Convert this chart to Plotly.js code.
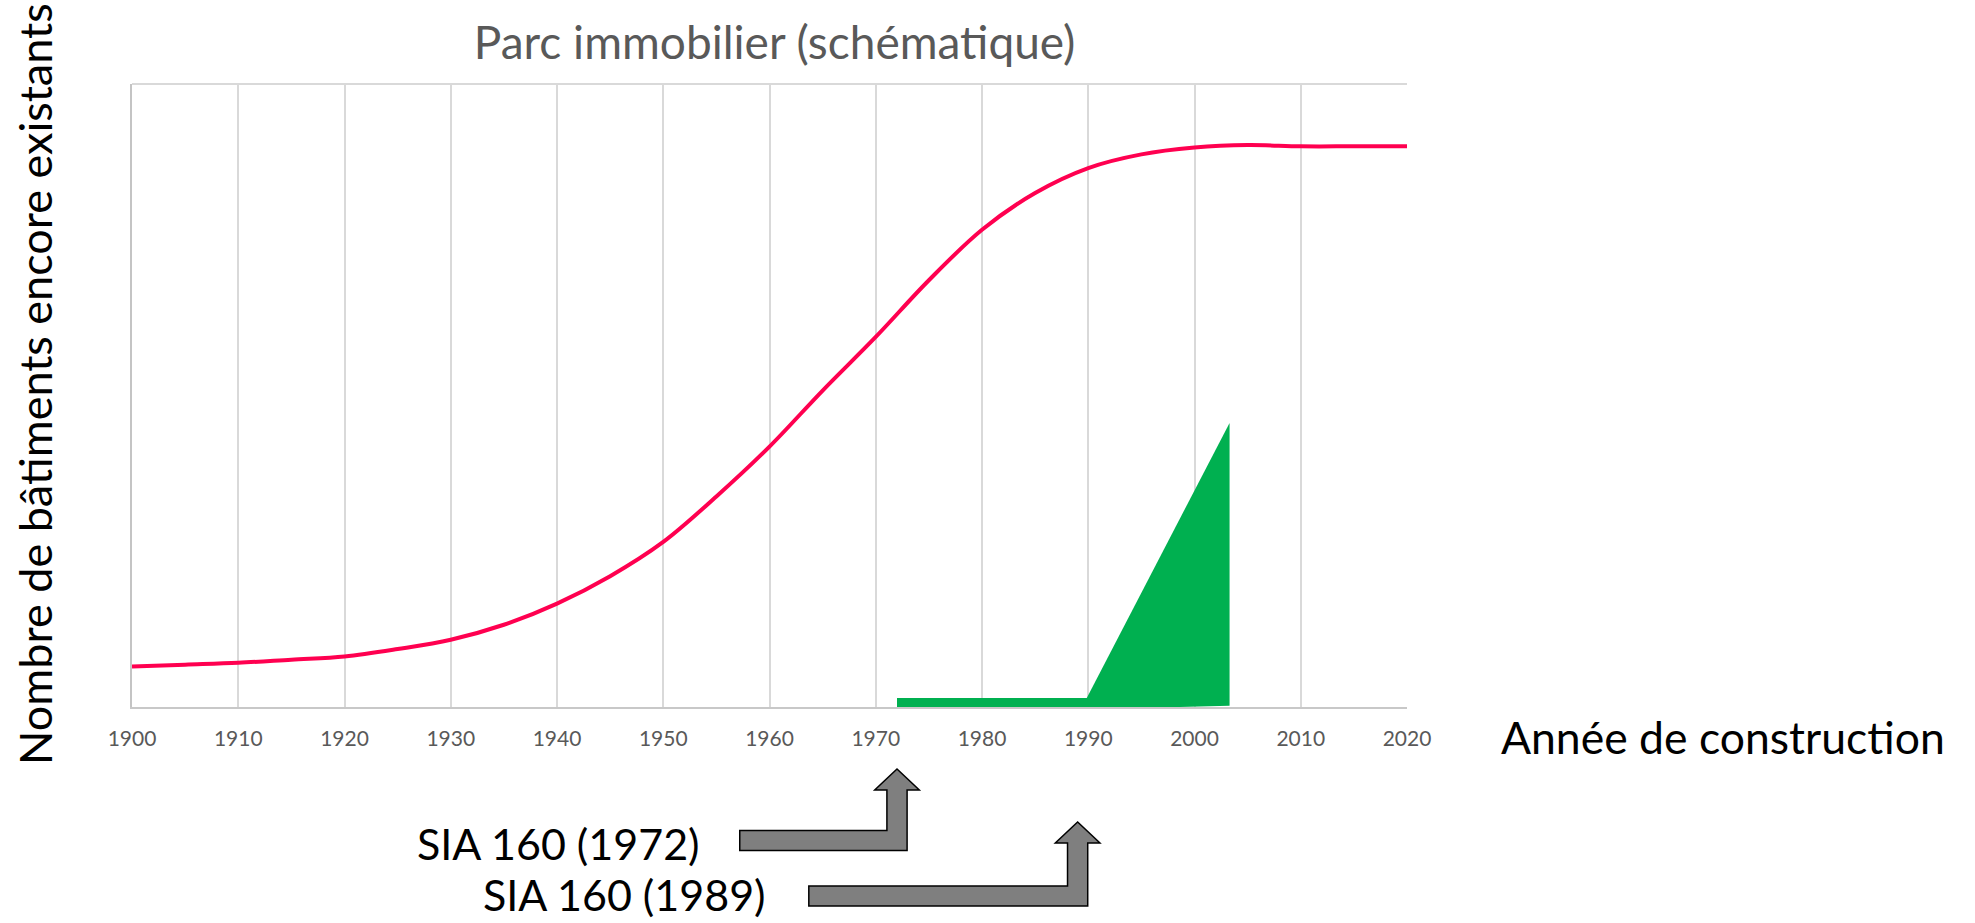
<!DOCTYPE html>
<html>
<head>
<meta charset="utf-8">
<script src="https://cdn.plot.ly/plotly-3.0.1.min.js"></script>
<style>html,body{margin:0;padding:0;background:#fff;}#chart{width:1975px;height:923px;}</style>
</head>
<body>
<div id="chart"></div>
<script>
// ---- data ----
const years = [1900,1905,1910,1915,1920,1925,1930,1935,1940,1945,1950,1955,1960,1965,1970,1975,1980,1985,1990,1995,2000,2005,2010,2015,2020];
const stock = [6.5,6.8,7.1,7.6,8.1,9.3,10.8,13.2,16.6,21.0,26.5,33.8,41.8,50.8,59.4,68.5,76.6,82.5,86.5,88.7,89.8,90.2,90.0,90.0,90.0];
const tickYears = [1900,1910,1920,1930,1940,1950,1960,1970,1980,1990,2000,2010,2020];
const normBarX = [1972, 1990];
const normBarY = [0, 1.45];
const wedgeX = [1989.3, 2003.3, 2003.3];
const wedgeY = [-0.4, 45.6, 0.2];
const siaYears = [1972, 1989];
const siaLabels = ['SIA 160 (1972)', 'SIA 160 (1989)'];

// ---- styling ----
const FONT = 'Lato, "Open Sans", sans-serif';
const red = '#ff0050';
const green = '#00b050';

const traces = [
  {x:[normBarX[0],normBarX[1],normBarX[1],normBarX[0],normBarX[0]],
   y:[normBarY[0],normBarY[0],normBarY[1],normBarY[1],normBarY[0]],
   mode:'lines', fill:'toself', fillcolor:green, line:{width:0,color:green}, hoverinfo:'skip'},
  {x:[wedgeX[0],wedgeX[1],wedgeX[2],wedgeX[0]], y:[wedgeY[0],wedgeY[1],wedgeY[2],wedgeY[0]],
   mode:'lines', fill:'toself', fillcolor:green, line:{width:0,color:green}, hoverinfo:'skip'},
  {x:years, y:stock, mode:'lines', line:{color:red, width:4, shape:'spline', smoothing:1}}
];

// arrow geometry (years relative to tip, paper y)
const arrowGeom = [
  {barLeft:-14.8, tip:-0.0995, headBase:-0.1332, barTop:-0.1982, barBottom:-0.2303},
  {barLeft:-25.3, tip:-0.1846, headBase:-0.2183, barTop:-0.2873, barBottom:-0.3194}
];
const shaftHalf = 0.95, headHalf = 2.1;
const shapes = siaYears.map((T,i)=>{
  const g = arrowGeom[i];
  const p = [
    [T+g.barLeft, g.barBottom],[T+shaftHalf, g.barBottom],[T+shaftHalf, g.headBase],
    [T+headHalf, g.headBase],[T, g.tip],[T-headHalf, g.headBase],
    [T-shaftHalf, g.headBase],[T-shaftHalf, g.barTop],[T+g.barLeft, g.barTop]
  ];
  return {type:'path', xref:'x', yref:'paper',
    path:'M'+p.map(q=>q[0]+','+q[1]).join(' L')+' Z',
    fillcolor:'#7f7f7f', line:{color:'#000', width:1.5}, layer:'above'};
});
// top border of plot area
shapes.push({type:'line', xref:'paper', yref:'paper', x0:0, x1:1, y0:1, y1:1, line:{color:'#d9d9d9', width:2}});

const labelPos = [{x:0.3345, y:-0.2183},{x:0.3859, y:-0.3015}];
const annotations = siaLabels.map((t,i)=>({
  text:t, xref:'paper', yref:'paper', x:labelPos[i].x, y:labelPos[i].y,
  xanchor:'center', yanchor:'middle', showarrow:false,
  font:{family:FONT, size:43, color:'#000'}
}));
annotations.push({text:'Année de construction', xref:'paper', yref:'paper', x:1.2478, y:-0.048,
  xanchor:'center', yanchor:'middle', showarrow:false, font:{family:FONT, size:44.5, color:'#000'}});
annotations.push({text:'Nombre de bâtiments encore existants', xref:'paper', yref:'paper', x:-0.0761, y:0.5185,
  textangle:-90, xanchor:'center', yanchor:'middle', showarrow:false, font:{family:FONT, size:45, color:'#000'}});

const layout = {
  width:1975, height:923,
  margin:{l:132, r:568, t:84, b:216, pad:0},
  paper_bgcolor:'#fff', plot_bgcolor:'#fff',
  showlegend:false,
  title:{text:'Parc immobilier (schématique)', font:{family:FONT, size:46, color:'#595959'},
    xref:'paper', x:0.504, xanchor:'center', yref:'container', y:0.953, yanchor:'middle'},
  xaxis:{range:[1900,2020], tickvals:tickYears, showgrid:true, gridcolor:'#d9d9d9', gridwidth:2,
    zeroline:false, showline:true, linecolor:'#c8c8c8', linewidth:2,
    ticks:'outside', ticklen:12, tickcolor:'rgba(0,0,0,0)',
    tickfont:{family:FONT, size:21, color:'#595959'}},
  yaxis:{range:[0,100], showgrid:false, zeroline:false, showticklabels:false,
    showline:true, linecolor:'#c4c4c4', linewidth:2, ticks:''},
  shapes:shapes,
  annotations:annotations
};

Plotly.newPlot('chart', traces, layout, {displayModeBar:false, staticPlot:true});
</script>
</body>
</html>
